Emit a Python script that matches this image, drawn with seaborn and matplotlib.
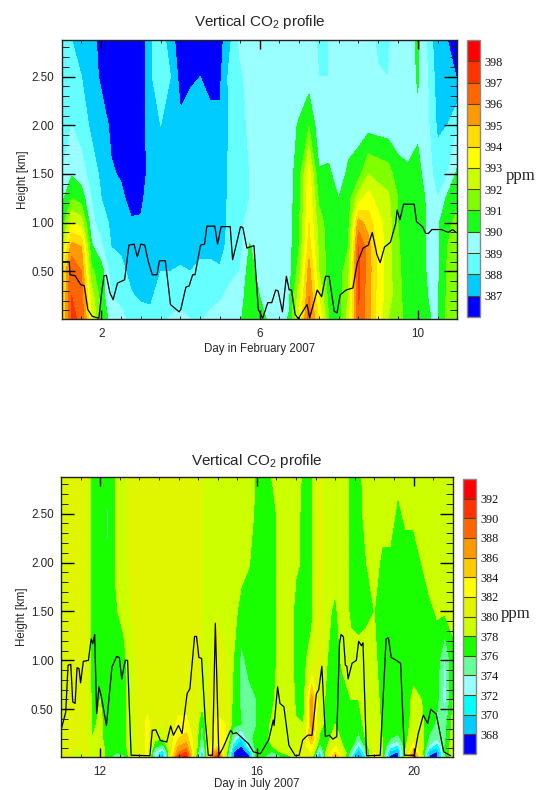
import numpy as np
import pandas as pd
import seaborn as sns
import matplotlib.pyplot as plt
from matplotlib.colors import ListedColormap, BoundaryNorm

# Heights of the profile samples (km)
feb_heights = [0.015, 0.25, 0.5, 0.75, 1.0, 1.25, 1.5, 2.0, 2.5, 2.88]
jul_heights = [0.012, 0.06, 0.12, 0.2, 0.35, 0.6, 1.0, 1.5, 2.0, 2.5, 2.88]

# Days of the columns below
feb_days = [1.0, 1.25, 1.5, 1.75, 2.0, 2.25, 2.5, 2.75, 3.0, 3.25, 3.5, 3.75, 4.0, 4.25,
            4.5, 4.75, 5.0, 5.25, 5.5, 5.75, 6.0, 6.25, 6.5, 6.75, 7.0, 7.25, 7.5, 7.75,
            8.0, 8.25, 8.5, 8.75, 9.0, 9.25, 9.5, 9.75, 10.0, 10.25, 10.5, 10.75, 11.0]
jul_days = [11.0, 11.2, 11.4, 11.6, 11.8, 12.0, 12.2, 12.4, 12.6, 12.8, 13.0, 13.2, 13.4,
            13.6, 13.8, 14.0, 14.2, 14.4, 14.6, 14.8, 15.0, 15.2, 15.4, 15.6, 15.8, 16.0,
            16.2, 16.4, 16.6, 16.8, 17.0, 17.2, 17.4, 17.6, 17.8, 18.0, 18.2, 18.4, 18.6,
            18.8, 19.0, 19.2, 19.4, 19.6, 19.8, 20.0, 20.2, 20.4, 20.6, 20.8, 21.0]

# CO2 in ppm, one row per day, one value per height
feb_co2 = [
    [393.5, 393.5, 393.5, 392.0, 390.2, 389.7, 389.0, 388.5, 388.5, 388.5],
    [397.2, 397.0, 396.8, 395.5, 393.0, 391.0, 389.9, 389.0, 388.5, 388.0],
    [396.8, 396.5, 396.0, 395.0, 392.5, 390.5, 389.5, 388.5, 388.0, 387.8],
    [393.0, 392.5, 391.2, 390.2, 389.3, 389.0, 388.5, 387.8, 387.5, 387.5],
    [391.0, 390.5, 390.5, 389.2, 388.5, 388.0, 387.8, 387.5, 386.8, 386.5],
    [389.5, 389.0, 388.5, 388.0, 387.8, 387.6, 387.1, 386.8, 386.6, 386.5],
    [389.5, 388.5, 388.3, 387.8, 387.5, 387.2, 386.9, 386.5, 386.4, 386.4],
    [388.5, 388.1, 387.7, 387.4, 387.1, 386.7, 386.4, 386.3, 386.3, 386.3],
    [388.5, 387.8, 387.5, 387.3, 387.1, 386.8, 386.4, 386.3, 386.3, 386.3],
    [388.3, 387.8, 387.5, 387.4, 387.5, 387.5, 387.5, 387.7, 387.9, 387.9],
    [388.5, 388.5, 388.0, 387.7, 387.6, 387.6, 387.6, 388.0, 388.5, 388.5],
    [389.1, 388.5, 388.0, 387.7, 387.5, 387.5, 387.5, 387.5, 388.0, 387.5],
    [389.2, 388.7, 388.1, 387.7, 387.4, 387.3, 387.3, 387.2, 386.6, 386.3],
    [389.0, 388.6, 388.0, 387.7, 387.5, 387.4, 387.4, 387.3, 386.9, 386.5],
    [388.9, 388.4, 388.1, 387.9, 387.5, 387.5, 387.4, 387.3, 387.0, 386.5],
    [389.2, 388.7, 388.2, 387.8, 387.5, 387.4, 387.4, 387.2, 386.8, 386.3],
    [389.3, 388.9, 388.1, 387.7, 387.6, 387.5, 387.4, 387.2, 386.8, 386.6],
    [389.5, 389.2, 388.8, 388.3, 388.2, 388.2, 388.2, 388.1, 388.3, 387.8],
    [389.8, 389.5, 389.0, 388.6, 388.6, 388.6, 388.6, 388.6, 388.8, 389.2],
    [390.8, 390.6, 390.5, 390.1, 389.5, 389.0, 389.0, 389.2, 389.3, 389.3],
    [391.0, 390.0, 389.6, 389.4, 389.3, 389.4, 389.4, 389.4, 389.4, 389.4],
    [389.5, 389.4, 389.4, 389.4, 389.4, 389.4, 389.4, 389.4, 389.4, 389.4],
    [389.5, 389.4, 389.4, 389.4, 389.4, 389.4, 389.4, 389.4, 389.4, 389.4],
    [390.1, 389.8, 389.6, 389.6, 389.6, 389.6, 389.6, 389.6, 389.6, 389.6],
    [393.0, 392.5, 391.5, 391.0, 390.8, 390.6, 390.5, 390.1, 389.4, 389.4],
    [396.5, 396.0, 395.5, 394.5, 394.0, 393.8, 393.5, 390.9, 389.5, 389.3],
    [394.0, 393.0, 392.0, 391.8, 391.5, 390.8, 390.1, 389.4, 389.0, 388.9],
    [391.0, 390.6, 390.5, 390.5, 390.5, 390.5, 390.2, 389.3, 389.0, 389.0],
    [390.5, 390.5, 390.5, 390.5, 390.2, 390.0, 389.5, 389.4, 389.2, 389.2],
    [392.5, 392.0, 391.7, 391.0, 390.7, 390.5, 390.2, 389.5, 389.4, 389.4],
    [396.7, 397.2, 397.2, 397.0, 395.5, 392.5, 390.6, 389.5, 389.4, 389.4],
    [395.5, 395.3, 395.5, 395.5, 394.5, 393.5, 392.0, 389.6, 389.4, 389.4],
    [393.5, 393.6, 393.7, 393.6, 393.4, 392.5, 391.7, 389.5, 389.1, 388.8],
    [392.0, 392.5, 392.5, 392.5, 392.5, 392.2, 391.5, 389.4, 389.0, 388.9],
    [391.5, 391.3, 391.2, 391.1, 391.0, 391.0, 390.4, 389.4, 389.3, 389.3],
    [390.5, 390.5, 390.5, 390.5, 390.5, 390.5, 390.2, 389.3, 389.4, 389.4],
    [390.5, 390.5, 390.5, 390.5, 390.5, 390.5, 390.3, 389.8, 390.1, 390.2],
    [390.1, 390.0, 389.9, 389.9, 389.9, 389.8, 389.5, 389.2, 389.0, 388.8],
    [389.8, 389.8, 389.8, 389.8, 389.8, 389.0, 388.5, 387.8, 387.5, 387.2],
    [391.3, 391.2, 391.1, 391.0, 390.8, 390.2, 389.0, 388.0, 387.6, 387.0],
    [391.5, 391.5, 391.5, 391.5, 391.2, 390.8, 390.2, 388.9, 386.9, 386.4],
]
jul_co2 = [
    [379.5, 379.5, 379.5, 379.5, 379.5, 379.5, 379.5, 379.5, 379.5, 379.5, 379.5],
    [380.5, 380.5, 380.5, 380.5, 380.5, 380.5, 380.5, 380.5, 380.5, 380.5, 380.5],
    [377.8, 379.0, 380.0, 380.0, 380.0, 380.0, 380.0, 380.0, 380.0, 380.0, 380.0],
    [380.0, 380.5, 380.8, 380.8, 380.8, 380.8, 380.8, 380.8, 380.8, 380.8, 380.8],
    [379.5, 379.5, 379.0, 378.0, 377.5, 377.5, 377.0, 377.0, 377.0, 377.0, 377.0],
    [379.5, 379.5, 379.0, 378.5, 378.5, 378.0, 377.0, 377.0, 377.0, 377.0, 377.0],
    [376.5, 377.0, 377.0, 377.0, 377.0, 377.0, 377.0, 377.0, 375.9, 375.8, 376.2],
    [375.5, 376.0, 377.0, 377.0, 377.0, 377.0, 377.0, 377.8, 378.2, 378.0, 378.2],
    [375.5, 376.5, 377.0, 377.0, 377.0, 377.0, 377.3, 378.6, 379.5, 379.5, 379.5],
    [379.5, 379.5, 379.5, 379.5, 379.5, 379.5, 379.5, 380.0, 380.5, 380.5, 380.5],
    [380.5, 380.5, 380.5, 380.5, 380.5, 380.5, 380.5, 380.5, 380.5, 380.5, 380.5],
    [382.5, 382.5, 382.5, 382.5, 382.5, 381.0, 380.5, 380.5, 380.5, 380.5, 380.5],
    [373.0, 373.5, 376.5, 378.5, 381.0, 380.7, 380.5, 380.5, 380.5, 380.5, 380.5],
    [367.5, 370.0, 375.0, 378.0, 380.0, 380.5, 380.5, 380.5, 380.5, 380.5, 380.5],
    [382.0, 381.0, 380.5, 381.0, 381.0, 381.0, 380.8, 380.8, 380.8, 380.8, 380.8],
    [391.0, 388.0, 386.0, 384.0, 382.5, 381.0, 380.8, 380.8, 380.8, 380.8, 380.8],
    [392.5, 390.0, 387.0, 385.0, 382.5, 381.0, 380.8, 380.8, 380.8, 380.8, 380.8],
    [380.0, 381.0, 381.0, 381.0, 381.0, 380.8, 380.5, 380.5, 380.5, 380.5, 380.5],
    [369.0, 370.5, 373.0, 374.5, 375.5, 379.0, 380.0, 380.0, 380.0, 380.0, 380.0],
    [385.0, 383.0, 382.0, 381.5, 381.0, 380.5, 380.0, 380.0, 380.0, 380.0, 380.0],
    [392.5, 388.0, 384.0, 383.0, 382.5, 381.0, 380.5, 380.0, 380.0, 380.0, 380.0],
    [379.0, 380.0, 381.0, 382.0, 382.0, 380.8, 380.0, 379.8, 379.8, 379.8, 379.8],
    [367.5, 368.0, 370.5, 374.0, 376.5, 377.5, 378.0, 379.0, 379.5, 379.5, 379.5],
    [367.0, 367.0, 367.5, 370.0, 376.0, 375.5, 375.5, 377.0, 379.0, 379.5, 379.5],
    [367.5, 368.5, 373.0, 375.5, 375.5, 375.5, 376.5, 377.0, 378.1, 379.5, 379.5],
    [378.0, 377.5, 377.0, 376.5, 376.0, 376.0, 377.0, 377.0, 377.0, 377.0, 377.5],
    [376.0, 377.0, 377.0, 377.0, 377.0, 377.0, 377.0, 377.0, 377.0, 377.0, 377.0],
    [374.5, 375.5, 378.0, 379.0, 378.5, 377.5, 377.0, 377.0, 377.0, 377.0, 378.2],
    [375.5, 378.0, 379.5, 380.0, 380.0, 379.5, 379.0, 379.0, 379.0, 379.0, 379.0],
    [377.0, 379.0, 380.0, 380.0, 380.0, 380.0, 380.0, 380.0, 380.0, 380.0, 380.0],
    [379.0, 380.0, 380.0, 379.0, 378.2, 377.5, 377.0, 377.0, 378.5, 378.5, 379.0],
    [380.0, 381.0, 381.0, 380.5, 378.0, 377.5, 377.5, 377.5, 377.5, 377.5, 377.5],
    [379.0, 382.0, 383.5, 386.0, 387.0, 387.0, 379.0, 377.5, 377.5, 377.5, 377.5],
    [367.5, 371.0, 375.0, 377.5, 379.0, 380.0, 381.0, 381.0, 381.0, 381.0, 380.5],
    [381.0, 380.0, 378.0, 377.0, 377.0, 377.0, 378.0, 378.5, 379.0, 379.0, 379.0],
    [386.0, 384.0, 382.0, 380.0, 378.0, 377.0, 377.0, 377.5, 379.0, 380.0, 380.0],
    [381.0, 380.0, 378.0, 377.0, 377.0, 377.0, 378.5, 379.5, 380.0, 380.0, 380.0],
    [372.0, 375.0, 377.0, 377.5, 377.5, 378.0, 379.0, 377.5, 377.0, 377.0, 377.0],
    [367.3, 367.8, 371.0, 375.0, 377.0, 378.0, 379.0, 377.0, 377.0, 377.0, 377.0],
    [372.0, 375.0, 377.0, 378.5, 379.0, 379.0, 379.0, 377.5, 378.0, 379.0, 379.5],
    [386.0, 382.0, 381.0, 380.5, 380.0, 379.5, 378.5, 378.0, 379.0, 379.0, 379.0],
    [378.0, 378.5, 378.5, 378.0, 377.5, 377.0, 377.0, 377.0, 377.5, 379.0, 379.5],
    [367.5, 369.0, 373.0, 376.0, 377.0, 377.0, 377.0, 377.0, 377.5, 379.0, 379.5],
    [367.2, 367.8, 371.0, 375.5, 377.0, 377.0, 377.0, 377.0, 377.0, 377.5, 378.5],
    [380.0, 378.5, 377.5, 377.0, 377.0, 377.0, 377.0, 377.0, 377.0, 378.5, 379.5],
    [390.0, 386.0, 383.0, 381.0, 379.0, 378.5, 377.0, 377.0, 377.0, 378.5, 379.0],
    [381.0, 380.0, 379.5, 379.0, 378.5, 378.0, 377.0, 377.0, 378.0, 379.0, 379.0],
    [367.5, 369.0, 373.5, 375.5, 377.0, 377.5, 378.0, 377.5, 379.0, 379.0, 379.0],
    [367.2, 367.6, 370.0, 374.0, 375.5, 376.5, 377.0, 378.2, 379.0, 379.0, 379.0],
    [375.0, 376.0, 376.0, 375.5, 375.0, 373.0, 373.5, 378.3, 379.0, 379.0, 379.0],
    [379.5, 379.5, 379.5, 379.0, 378.5, 378.0, 377.5, 378.5, 379.0, 379.0, 379.0],
]

# Black line on each panel
feb_line_day = [1.0, 1.19, 1.21, 1.34, 1.48, 1.57, 1.66, 1.77, 1.94, 2.01, 2.07, 2.13, 2.22, 2.30,
                2.41, 2.59, 2.70, 2.83, 2.91, 3.0, 3.10, 3.19, 3.29, 3.41, 3.47, 3.62, 3.75, 3.97,
                4.01, 4.14, 4.22, 4.31, 4.37, 4.51, 4.61, 4.67, 4.87, 4.94, 5.03, 5.26, 5.32, 5.41,
                5.52, 5.58, 5.68, 5.86, 5.97, 6.08, 6.21, 6.31, 6.41, 6.47, 6.58, 6.68, 6.75, 6.81,
                6.90, 6.98, 7.2, 7.27, 7.46, 7.57, 7.67, 7.76, 7.89, 7.96, 8.04, 8.19, 8.36, 8.47,
                8.62, 8.75, 8.85, 8.97, 9.05, 9.16, 9.31, 9.44, 9.48, 9.55, 9.64, 9.91, 9.97, 10.12,
                10.2, 10.27, 10.36, 10.6, 10.77, 10.88, 10.97]
feb_line_km = [.6, .6, .466, .456, .364, .354, .11, .04, .02, .28, .456, .46, .28, .21,
               .38, .415, .77, .78, .65, .78, .77, .6, .466, .466, .61, .61, .16, .085,
               .11, .34, .35, .466, .466, .77, .78, .965, .965, .78, .96, .96, .62, .77,
               .96, .95, .74, .765, .11, .02, .18, .18, .31, .3, .085, .45, .31, .31,
               .06, .015, .16, .025, .31, .24, .45, .45, .09, .075, .26, .31, .33, .585,
               .74, .77, .9, .67, .59, .75, .8, .99, 1.13, 1.03, 1.19, 1.19, 1.01, .96,
               .89, .89, .93, .93, .9, .93, .9]
jul_line_day = [11.0, 11.12, 11.18, 11.25, 11.3, 11.36, 11.41, 11.46, 11.5, 11.57, 11.7, 11.77, 11.81,
                11.86, 11.91, 11.97, 12.03, 12.16, 12.3, 12.42, 12.49, 12.55, 12.64, 12.7, 12.79, 13.27,
                13.33, 13.42, 13.54, 13.7, 13.8, 13.87, 14.0, 14.09, 14.22, 14.29, 14.41, 14.46, 14.52,
                14.59, 14.68, 14.76, 14.87, 14.94, 15.03, 15.13, 15.33, 15.39, 15.48, 15.78, 15.91, 16.09,
                16.3, 16.42, 16.44, 16.53, 16.59, 16.69, 16.82, 16.98, 17.08, 17.17, 17.3, 17.41, 17.52,
                17.58, 17.66, 17.75, 17.85, 17.94, 18.04, 18.11, 18.15, 18.21, 18.26, 18.3, 18.33, 18.43,
                18.54, 18.6, 18.67, 18.71, 18.8, 19.15, 19.3, 19.36, 19.43, 19.56, 19.67, 19.77, 20.02,
                20.12, 20.25, 20.36, 20.44, 20.58, 20.77, 20.95]
jul_line_km = [.285, .47, .95, .96, .575, .56, .925, .915, .77, .99, 1.0, 1.22, 1.17,
               1.265, .455, .73, .63, .335, .93, 1.04, 1.03, .81, 1.0, 1.0, .03, .025,
               .285, .29, .18, .165, .33, .235, .335, .25, .66, .71, 1.245, 1.245, 1.03,
               1.02, .405, .03, .03, 1.38, .03, .1, .285, .25, .26, .15, .065, .045,
               .185, .39, .335, .73, .56, .525, .13, .025, .03, .185, .235, .235, .66,
               .7, .94, .22, .235, .195, .22, 1.17, 1.265, 1.24, .95, .94, .81, .97,
               1.0, 1.195, 1.15, 1.18, .025, .03, 1.22, 1.23, 1.03, 1.0, .97, .03, .03,
               .25, .44, .355, .5, .45, .065, .025]

# Colour bands
feb_levels = list(range(386, 400))
feb_colors = ['#0000ff', '#00ccff', '#66ffff', '#99ffff', '#19ff19', '#80ff00', '#ccff00',
              '#ffff00', '#ffdd00', '#ff9900', '#ff6600', '#ff3300', '#ff0000']
jul_levels = list(range(366, 395, 2))
jul_colors = ['#0000ff', '#00ccff', '#00ffff', '#99ffff', '#66ff99', '#19ff00', '#ccff00',
              '#e0f500', '#ffff00', '#ffcc00', '#ff9900', '#ff6600', '#ff3300', '#ff0000']

sns.set_style('ticks')
plt.rcParams['font.family'] = ['Liberation Sans', 'DejaVu Sans']
plt.rcParams['mathtext.default'] = 'regular'

W, H = 536, 790


def box(left, top, right, bottom):
    return [left / W, 1 - bottom / H, (right - left) / W, (bottom - top) / H]


def draw_panel(ax, cax, days, heights, co2, levels, colors, line_day, line_km,
               xlim, xticks, xlabel, ppm_x, ppm_y, title_pad, xlabel_pad):
    cmap = ListedColormap(colors)
    norm = BoundaryNorm(levels, cmap.N)
    field = np.array(co2).T
    filled = ax.contourf(days, heights, field, levels=levels, cmap=cmap, norm=norm)
    line = pd.DataFrame({'day': line_day, 'km': line_km})
    sns.lineplot(data=line, x='day', y='km', color='black', linewidth=0.9, estimator=None,
                 sort=False, solid_joinstyle='round', ax=ax)
    ax.set_axisbelow(False)
    ax.set_xlim(*xlim)
    ax.set_ylim(0.012, 2.88)
    ax.set_xticks(xticks)
    ax.set_xticks(np.arange(xlim[0], xlim[1] + 0.5, 0.5), minor=True)
    ax.set_yticks([0.5, 1.0, 1.5, 2.0, 2.5])
    ax.set_yticklabels(['0.50', '1.00', '1.50', '2.00', '2.50'])
    ax.set_yticks(np.arange(0.1, 2.9, 0.1), minor=True)
    ax.tick_params(axis='y', which='major', direction='in', length=9.4, width=1.0, left=True,
                   right=True, labelsize=8.4, pad=5.4, color='black')
    ax.tick_params(axis='y', which='minor', direction='in', length=5, width=0.7, left=True,
                   right=True, color='#222222')
    ax.tick_params(axis='x', which='major', direction='in', length=6.5, width=1.0, top=True,
                   labelsize=8.4, pad=6.5, color='black')
    ax.tick_params(axis='x', which='minor', direction='in', length=2.5, width=0.7, top=True,
                   color='#222222')
    ax.set_xlabel(xlabel, fontsize=8.3, labelpad=xlabel_pad)
    ax.set_ylabel('Height [km]', fontsize=8.3, labelpad=2)
    ax.set_title('Vertical CO$_2$ profile', fontsize=11, pad=title_pad)
    for s in ax.spines.values():
        s.set_linewidth(1.0)
        s.set_color('#222222')

    cbar = ax.figure.colorbar(filled, cax=cax, ticks=levels[1:-1], drawedges=True)
    cbar.ax.tick_params(length=0, labelsize=8.8, pad=3)
    cbar.ax.minorticks_off()
    cbar.dividers.set_color('#554400')
    cbar.dividers.set_linewidth(0.8)
    cbar.outline.set_edgecolor('#888888')
    cbar.outline.set_linewidth(1.0)
    for t in cbar.ax.get_yticklabels():
        t.set_family('Liberation Serif')
        t.set_color('#111111')
    ax.figure.text(ppm_x / W, 1 - ppm_y / H, 'ppm', family='Liberation Serif', fontsize=12,
                   ha='left', va='center')


fig = plt.figure(figsize=(W / 100, H / 100), dpi=100)

ax1 = fig.add_axes(box(61.7, 39.5, 457.3, 319))
cax1 = fig.add_axes(box(467, 40, 480, 317))
draw_panel(ax1, cax1, feb_days, feb_heights, feb_co2, feb_levels, feb_colors,
           feb_line_day, feb_line_km, (1, 11), [2, 6, 10], 'Day in February 2007', 506, 176, 9.5, 2)

ax2 = fig.add_axes(box(61, 476.5, 452.7, 757))
cax2 = fig.add_axes(box(463.3, 479, 476, 754))
draw_panel(ax2, cax2, jul_days, jul_heights, jul_co2, jul_levels, jul_colors,
           jul_line_day, jul_line_km, (11, 21), [12, 16, 20], 'Day in July 2007', 500.5, 614, 8, 0.3)

fig.savefig('out.png', dpi=100)
